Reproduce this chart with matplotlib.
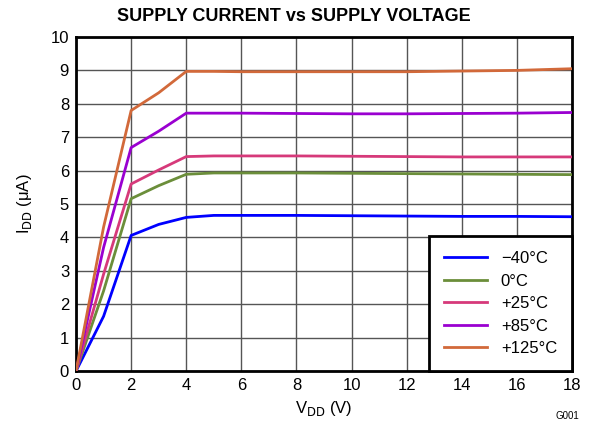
import matplotlib
matplotlib.use('AGG')
import matplotlib.pyplot as plt

plt.rcParams['font.family'] = ['Liberation Sans', 'DejaVu Sans']

vdd = [0, 1, 2, 3, 4, 5, 6, 8, 10, 12, 14, 16, 18]
labels = ['\u221240\u00b0C', '0\u00b0C', '+25\u00b0C', '+85\u00b0C', '+125\u00b0C']
colors = ['#0000FF', '#6B8E3A', '#D6397A', '#9A00D0', '#D2693A']
i_m40 = [0, 1.64, 4.06, 4.39, 4.60, 4.66, 4.66, 4.66, 4.65, 4.64, 4.63, 4.63, 4.62]
i_0 = [0, 2.4, 5.16, 5.55, 5.89, 5.93, 5.93, 5.93, 5.92, 5.91, 5.90, 5.89, 5.88]
i_25 = [0, 2.9, 5.60, 6.02, 6.42, 6.44, 6.44, 6.44, 6.43, 6.42, 6.41, 6.41, 6.41]
i_85 = [0, 3.7, 6.69, 7.18, 7.72, 7.72, 7.72, 7.71, 7.70, 7.70, 7.71, 7.72, 7.74]
i_125 = [0, 4.31, 7.80, 8.33, 8.97, 8.97, 8.96, 8.96, 8.96, 8.96, 8.98, 9.00, 9.05]
series = [i_m40, i_0, i_25, i_85, i_125]

fig = plt.figure(figsize=(5.94, 4.30), dpi=100)
ax = fig.add_axes([0.128, 0.137, 0.835, 0.777])

for y, c, lab in zip(series, colors, labels):
    ax.plot(vdd, y, color=c, linewidth=2, label=lab, zorder=3)

ax.set_xlim(0, 18)
ax.set_ylim(0, 10)
ax.set_xticks(range(0, 19, 2))
ax.set_yticks(range(0, 11))
ax.grid(True, color='#555555', linewidth=1, zorder=0)
ax.tick_params(length=0, labelsize=12, pad=5)
for s in ax.spines.values():
    s.set_linewidth(2)
    s.set_color('black')

fig.text(0.494, 0.962, 'SUPPLY CURRENT vs SUPPLY VOLTAGE', fontsize=13,
         fontweight='bold', ha='center', va='center')
ax.set_xlabel('V$_{\\mathrm{DD}}$ (V)', fontsize=12)
ax.set_ylabel('I$_{\\mathrm{DD}}$ (\u03bcA)', fontsize=12, labelpad=12)

leg = ax.legend(loc='lower right', fontsize=12, frameon=True, fancybox=False,
                edgecolor='black', framealpha=1, borderaxespad=0,
                handlelength=2.6, labelspacing=0.45, borderpad=0.9,
                handletextpad=0.8)
leg.get_frame().set_linewidth(2)

fig.text(0.975, 0.02, 'G001', fontsize=7, ha='right', va='bottom')

fig.savefig('out.png', dpi=100)
